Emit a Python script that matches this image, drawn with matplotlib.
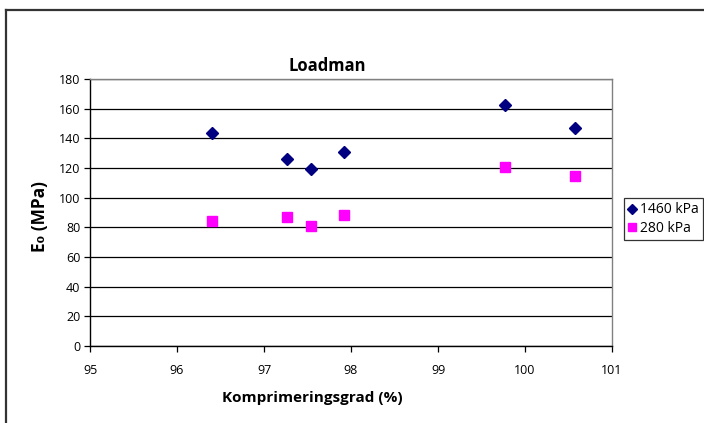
import matplotlib
matplotlib.use("Agg")
import matplotlib.pyplot as plt
from matplotlib.lines import Line2D

plt.rcParams['font.family'] = ['Open Sans', 'DejaVu Sans']

# Compaction degree (%) and stiffness modulus E0 (MPa) per load level
komp_1460 = [96.40, 97.26, 97.54, 97.92, 99.77, 100.57]
e0_1460 = [143.7, 126.3, 119.3, 131.0, 162.4, 147.1]
komp_280 = [96.40, 97.26, 97.54, 97.92, 99.77, 100.57]
e0_280 = [84.3, 87.2, 80.9, 88.2, 120.4, 114.3]
series_labels = ["1460 kPa", "280 kPa"]
x_ticks = [95, 96, 97, 98, 99, 100, 101]
y_ticks = [0, 20, 40, 60, 80, 100, 120, 140, 160, 180]

W, H = 704, 423
fig = plt.figure(figsize=(W / 100, H / 100), dpi=100)
ax = fig.add_axes([90 / W, 1 - 346 / H, (612 - 90) / W, (346 - 79) / H])

ax.set_xlim(95, 101)
ax.set_ylim(0, 180)
ax.set_xticks(x_ticks)
ax.set_yticks(y_ticks)
ax.yaxis.grid(True, color='black', linewidth=0.9)
ax.set_axisbelow(True)

for side in ('top', 'right'):
    ax.spines[side].set_color('#808080')
    ax.spines[side].set_linewidth(1.0)
for side in ('left', 'bottom'):
    ax.spines[side].set_color('black')
    ax.spines[side].set_linewidth(1.0)

ax.tick_params(direction='out', length=4, width=0.9, labelsize=9, pad=3)
ax.tick_params(axis='x', pad=9)

ax.plot(komp_1460, e0_1460, linestyle='none', marker='D', markersize=6.5,
        color='#000080', label=series_labels[0])
ax.plot(komp_280, e0_280, linestyle='none', marker='s', markersize=7,
        color='#FF00FF', label=series_labels[1])

# Title and axis titles, centred on the chart area
fig.text(327 / W, 1 - 66 / H, "Loadman", fontsize=12, fontweight='bold',
         ha='center', va='center')
fig.text(312 / W, 1 - 398 / H, "Komprimeringsgrad (%)", fontsize=11,
         fontweight='bold', ha='center', va='center')
fig.text(40 / W, 1 - 217 / H, "E\u2080 (MPa)", fontsize=12.5, fontweight='bold',
         ha='center', va='center', rotation=90)

leg = fig.legend(loc='lower left', bbox_to_anchor=(624 / W, 1 - 240 / H),
                 fontsize=10, frameon=True, fancybox=False, shadow=False,
                 handlelength=0.5, handletextpad=0.35, borderpad=0.3,
                 labelspacing=0.25, borderaxespad=0, markerscale=0.8)
leg.get_frame().set_edgecolor('black')
leg.get_frame().set_linewidth(0.9)

# Outer chart border (top and left edges)
fig.add_artist(Line2D([6 / W, 1], [1 - 10 / H, 1 - 10 / H], transform=fig.transFigure,
                      color='#333333', linewidth=1.6))
fig.add_artist(Line2D([6 / W, 6 / W], [0, 1 - 10 / H], transform=fig.transFigure,
                      color='#333333', linewidth=1.6))

fig.savefig("out.png", dpi=100)
